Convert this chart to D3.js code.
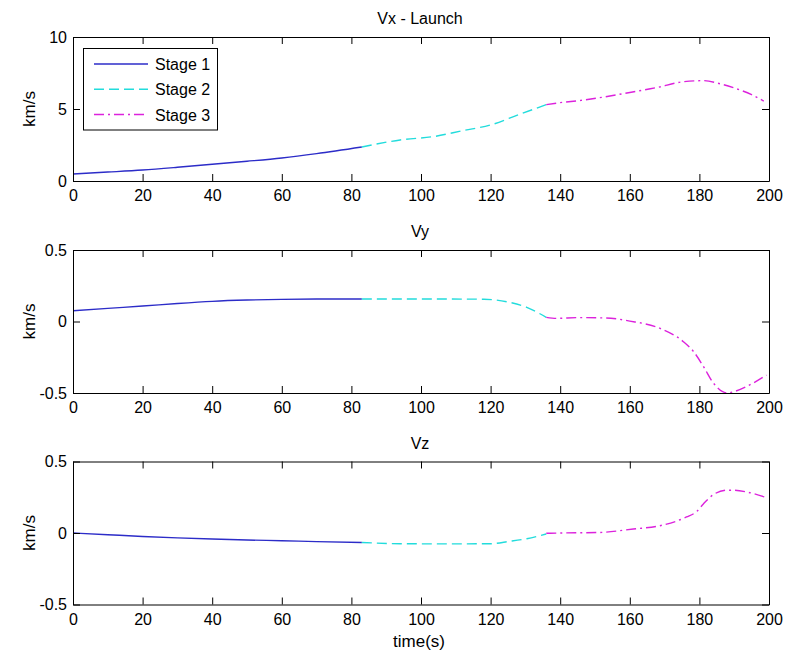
<!DOCTYPE html>
<html>
<head>
<meta charset="utf-8">
<script src="https://cdn.jsdelivr.net/npm/d3@7"></script>
<style>
  html, body { margin: 0; padding: 0; background: #fff; }
  svg text { font-family: "Liberation Sans", Arial, Helvetica, sans-serif; fill: #000; }
</style>
</head>
<body>
<svg id="chart" width="787" height="656"></svg>
<script>
// Time samples (s) for each stage
const stage1Time = [0, 10, 20, 30, 40, 50, 60, 70, 83];
const stage2TimeX = [83, 94, 104, 112, 120, 128, 136];
const stage3TimeX = [136, 140, 146, 153, 160, 168, 175, 181, 186, 190, 195, 198.5];
const stage2TimeY = [83, 95, 105, 118, 124.6, 130.4, 136];
const stage3TimeY = [136, 139, 145, 153, 160, 168.7, 175.4, 178.3, 181.2, 184, 188, 190, 195.5, 199.3];
const stage2TimeZ = [83, 94, 105, 120, 125.3, 130.4, 136];
const stage3TimeZ = [136, 140, 151.5, 161, 168.7, 176.3, 179.2, 181.2, 184, 187.8, 190, 193.9, 198.7];

// Velocity components (km/s)
const vxStage1 = [0.49, 0.62, 0.76, 0.95, 1.16, 1.37, 1.6, 1.9, 2.36];
const vxStage2 = [2.36, 2.85, 3.1, 3.5, 3.89, 4.6, 5.3];
const vxStage3 = [5.3, 5.44, 5.6, 5.85, 6.15, 6.5, 6.88, 6.97, 6.75, 6.46, 6.0, 5.55];

const vyStage1 = [0.075, 0.092, 0.108, 0.126, 0.141, 0.15, 0.155, 0.157, 0.157];
const vyStage2 = [0.157, 0.157, 0.157, 0.156, 0.138, 0.099, 0.029];
const vyStage3 = [0.029, 0.022, 0.027, 0.025, 0.003, -0.048, -0.141, -0.21, -0.316, -0.43, -0.5, -0.49, -0.43, -0.374];

const vzStage1 = [0, -0.012, -0.024, -0.034, -0.042, -0.049, -0.054, -0.06, -0.066];
const vzStage2 = [-0.066, -0.075, -0.076, -0.075, -0.059, -0.04, -0.007];
const vzStage3 = [-0.002, 0, 0.004, 0.028, 0.051, 0.112, 0.15, 0.205, 0.268, 0.299, 0.299, 0.285, 0.252];

// Axis ticks and labels
const xTicks = [0, 20, 40, 60, 80, 100, 120, 140, 160, 180, 200];
const vxTicks = [0, 5, 10];
const vyzTicks = [-0.5, 0, 0.5];
const stageNames = ["Stage 1", "Stage 2", "Stage 3"];
const panelTitles = ["Vx - Launch", "Vy", "Vz"];
const yLabel = "km/s";
const xLabel = "time(s)";

// Line styles for the three stages
const stageColors = ["#2c2cc8", "#22dcdc", "#dc22dc"];
const stageDashes = [null, "10,5", "10,4,2,4"];

const svg = d3.select("#chart");
svg.append("rect").attr("width", 787).attr("height", 656).attr("fill", "#fff");

const left = 73, right = 769;
const panels = [
  { top: 37, bottom: 181, domain: [0, 10], ticks: vxTicks,
    series: [[stage1Time, vxStage1], [stage2TimeX, vxStage2], [stage3TimeX, vxStage3]] },
  { top: 250, bottom: 393, domain: [-0.5, 0.5], ticks: vyzTicks,
    series: [[stage1Time, vyStage1], [stage2TimeY, vyStage2], [stage3TimeY, vyStage3]] },
  { top: 461.5, bottom: 604.5, domain: [-0.5, 0.5], ticks: vyzTicks,
    series: [[stage1Time, vzStage1], [stage2TimeZ, vzStage2], [stage3TimeZ, vzStage3]] }
];

const x = d3.scaleLinear().domain([0, 200]).range([left, right]);
const fmt = d => (d === 0 ? "0" : String(d));

panels.forEach((p, i) => {
  const y = d3.scaleLinear().domain(p.domain).range([p.bottom, p.top]);
  const g = svg.append("g");

  const clipId = "clip" + i;
  g.append("clipPath").attr("id", clipId)
    .append("rect").attr("x", left).attr("y", p.top - 1)
    .attr("width", right - left).attr("height", p.bottom - p.top + 2);

  const line = d3.line().x(d => x(d[0])).y(d => y(d[1])).curve(d3.curveMonotoneX);
  const plot = g.append("g").attr("clip-path", `url(#${clipId})`);
  p.series.forEach(([ts, vs], s) => {
    plot.append("path")
      .datum(ts.map((t, k) => [t, vs[k]]))
      .attr("d", line)
      .attr("fill", "none")
      .attr("stroke", stageColors[s])
      .attr("stroke-width", 1.4)
      .attr("stroke-dasharray", stageDashes[s]);
  });

  // Box axes with inward ticks
  const bottomAxis = d3.axisBottom(x).tickValues(xTicks).tickFormat(fmt)
    .tickSizeInner(-7).tickSizeOuter(0).tickPadding(9);
  const topAxis = d3.axisTop(x).tickValues(xTicks).tickFormat("")
    .tickSizeInner(-7).tickSizeOuter(0);
  const leftAxis = d3.axisLeft(y).tickValues(p.ticks).tickFormat(fmt)
    .tickSizeInner(-7).tickSizeOuter(0).tickPadding(6);
  const rightAxis = d3.axisRight(y).tickValues(p.ticks).tickFormat("")
    .tickSizeInner(-7).tickSizeOuter(0);

  const styleAxis = sel => {
    sel.selectAll("path.domain").attr("stroke", "#000").attr("stroke-width", 1);
    sel.selectAll(".tick line").attr("stroke", "#000");
    sel.selectAll(".tick text").style("font-size", "16px")
      .style("font-family", '"Liberation Sans", Arial, sans-serif').attr("fill", "#000");
  };
  g.append("g").attr("transform", `translate(0,${p.bottom})`).call(bottomAxis).call(styleAxis);
  g.append("g").attr("transform", `translate(0,${p.top})`).call(topAxis).call(styleAxis);
  g.append("g").attr("transform", `translate(${left},0)`).call(leftAxis).call(styleAxis);
  g.append("g").attr("transform", `translate(${right},0)`).call(rightAxis).call(styleAxis);

  // Title
  g.append("text")
    .attr("x", (left + right) / 2 - 1).attr("y", p.top - 13)
    .attr("text-anchor", "middle")
    .style("font-size", "16px")
    .text(panelTitles[i]);

  // Y label
  g.append("text")
    .attr("transform", `translate(${35},${(p.top + p.bottom) / 2}) rotate(-90)`)
    .attr("text-anchor", "middle")
    .style("font-size", "17px")
    .text(yLabel);
});

// X label under the last panel
svg.append("text")
  .attr("x", 419).attr("y", 647)
  .attr("text-anchor", "middle")
  .style("font-size", "17px")
  .text(xLabel);

// Legend in the first panel
const legend = svg.append("g");
legend.append("rect")
  .attr("x", 83.5).attr("y", 48.5).attr("width", 134).attr("height", 81.5)
  .attr("fill", "#fff").attr("stroke", "#000").attr("stroke-width", 1);
const rowY = d3.scalePoint().domain(stageNames).range([64, 114.5]);
stageNames.forEach((name, s) => {
  legend.append("line")
    .attr("x1", 94).attr("x2", 148)
    .attr("y1", rowY(name)).attr("y2", rowY(name))
    .attr("stroke", stageColors[s]).attr("stroke-width", 1.4)
    .attr("stroke-dasharray", stageDashes[s]);
  legend.append("text")
    .attr("x", 155).attr("y", rowY(name) + 6)
    .style("font-size", "16px")
    .text(name);
});
</script>
</body>
</html>
